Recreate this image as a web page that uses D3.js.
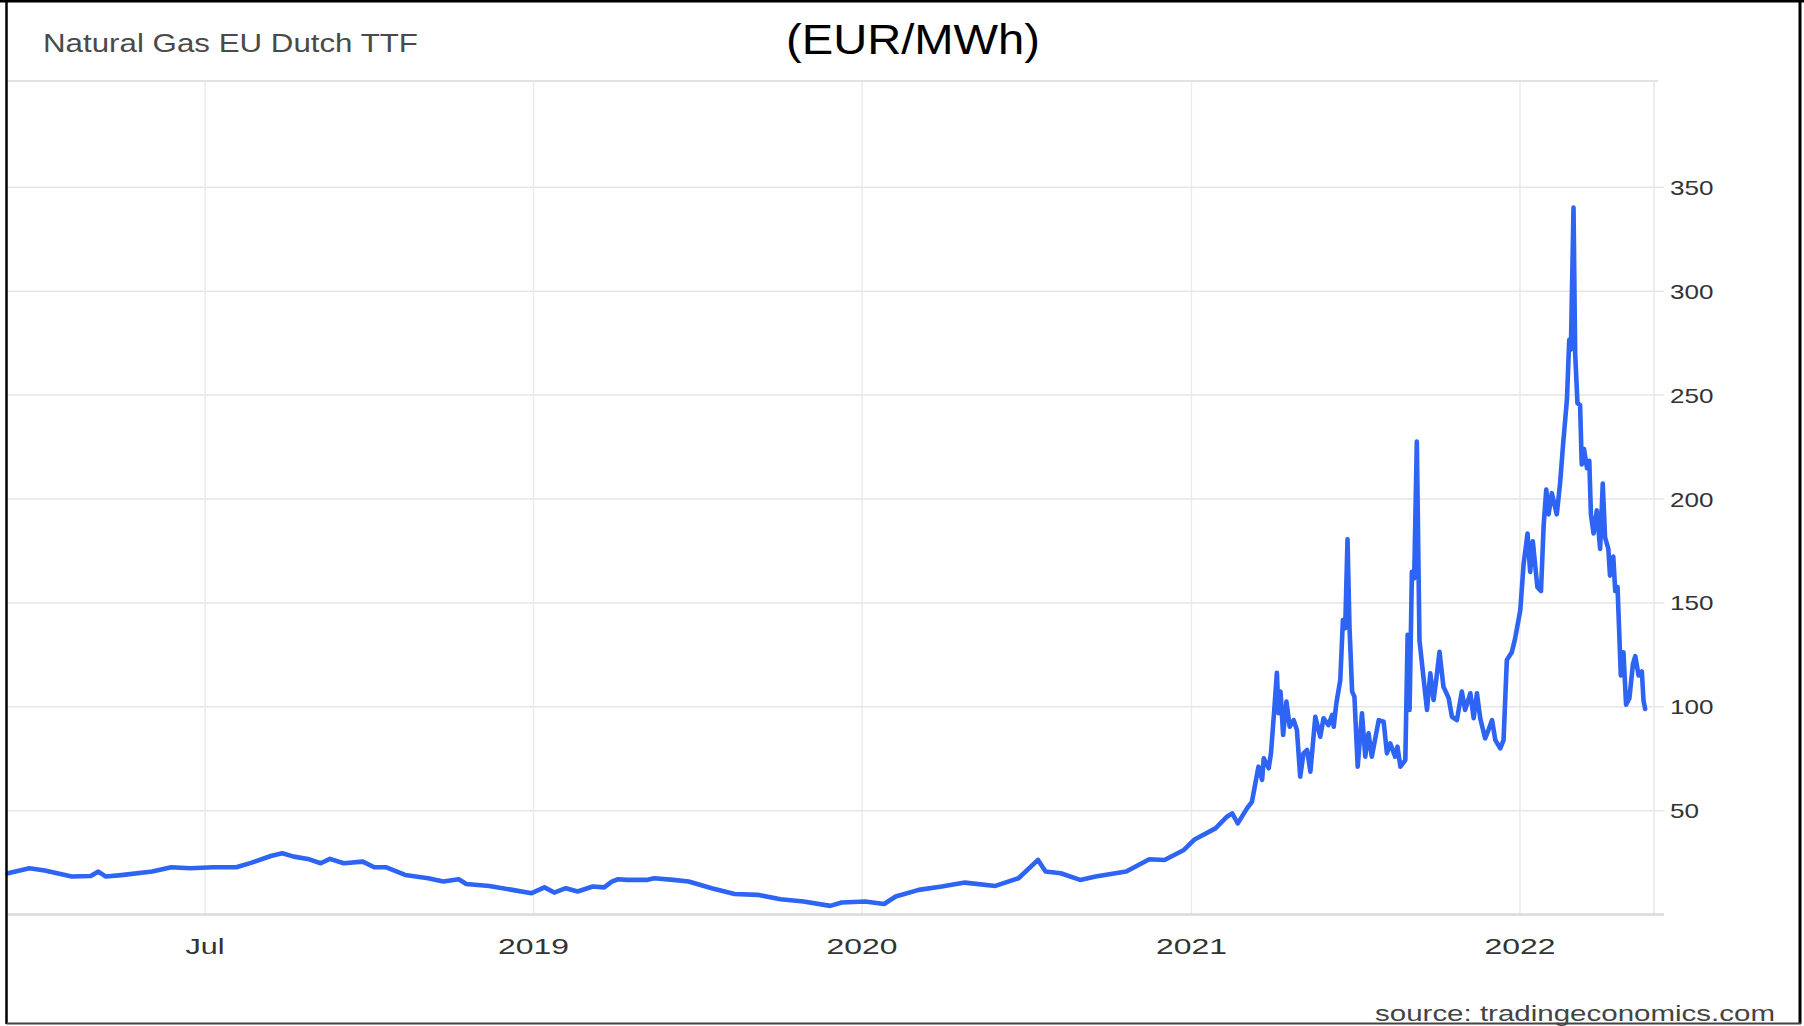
<!DOCTYPE html>
<html>
<head>
<meta charset="utf-8">
<script src="https://cdn.jsdelivr.net/npm/d3@7"></script>
<style>
  html, body { margin: 0; padding: 0; background: #fff; }
  svg { display: block; }
</style>
</head>
<body>
<svg id="chart" width="1804" height="1026"></svg>
<script>
// ---- data (decimal year, EUR/MWh) ----
const years = [
  2017.400, 2017.465, 2017.512, 2017.594, 2017.652, 2017.675, 2017.698, 2017.745, 2017.839, 2017.897,
  2017.955, 2018.025, 2018.095, 2018.142, 2018.200, 2018.235, 2018.270, 2018.317, 2018.352, 2018.380,
  2018.422, 2018.480, 2018.515, 2018.550, 2018.609, 2018.679, 2018.725, 2018.772, 2018.795, 2018.865,
  2018.935, 2018.994, 2019.033, 2019.063, 2019.098, 2019.134, 2019.180, 2019.215, 2019.238, 2019.257,
  2019.285, 2019.344, 2019.367, 2019.425, 2019.472, 2019.542, 2019.612, 2019.682, 2019.752, 2019.822,
  2019.903, 2019.938, 2020.009, 2020.067, 2020.102, 2020.172, 2020.242, 2020.312, 2020.405, 2020.475,
  2020.534, 2020.557, 2020.603, 2020.662, 2020.709, 2020.802, 2020.872, 2020.918, 2020.977, 2021.008,
  2021.073, 2021.108, 2021.124, 2021.141, 2021.169, 2021.184, 2021.204, 2021.215, 2021.220, 2021.235,
  2021.242, 2021.252, 2021.260, 2021.265, 2021.271, 2021.279, 2021.289, 2021.299, 2021.311, 2021.321,
  2021.331, 2021.341, 2021.352, 2021.362, 2021.377, 2021.392, 2021.402, 2021.417, 2021.428, 2021.433,
  2021.441, 2021.453, 2021.461, 2021.468, 2021.475, 2021.481, 2021.489, 2021.496, 2021.506, 2021.519,
  2021.529, 2021.539, 2021.549, 2021.570, 2021.585, 2021.595, 2021.605, 2021.620, 2021.627, 2021.636,
  2021.651, 2021.658, 2021.664, 2021.671, 2021.678, 2021.686, 2021.694, 2021.706, 2021.717, 2021.727,
  2021.737, 2021.745, 2021.755, 2021.767, 2021.783, 2021.793, 2021.808, 2021.823, 2021.833, 2021.849,
  2021.859, 2021.869, 2021.879, 2021.894, 2021.904, 2021.915, 2021.925, 2021.940, 2021.950, 2021.960,
  2021.975, 2021.985, 2022.001, 2022.011, 2022.023, 2022.031, 2022.039, 2022.053, 2022.064, 2022.072,
  2022.080, 2022.087, 2022.097, 2022.112, 2022.122, 2022.131, 2022.143, 2022.150, 2022.155, 2022.163,
  2022.168, 2022.175, 2022.183, 2022.188, 2022.195, 2022.204, 2022.211, 2022.216, 2022.224, 2022.234,
  2022.244, 2022.252, 2022.259, 2022.269, 2022.274, 2022.284, 2022.290, 2022.297, 2022.307, 2022.315,
  2022.323, 2022.333, 2022.344, 2022.351, 2022.361, 2022.371, 2022.376, 2022.381
];
const prices = [
  19.9, 22.3, 21.2, 18.3, 18.6, 20.7, 18.3, 19.0, 20.7, 22.8,
  22.3, 22.8, 22.8, 25.0, 28.2, 29.5, 27.9, 26.6, 24.7, 26.8,
  24.7, 25.5, 22.8, 22.8, 19.1, 17.5, 15.9, 17.0, 14.7, 13.8,
  11.9, 10.3, 13.1, 10.6, 12.7, 11.1, 13.5, 13.1, 15.9, 17.0,
  16.7, 16.7, 17.5, 16.7, 15.9, 12.7, 9.9, 9.5, 7.4, 6.3,
  4.2, 5.8, 6.3, 5.1, 8.7, 11.9, 13.5, 15.4, 13.8, 17.5,
  26.3, 20.7, 19.9, 16.7, 18.3, 20.7, 26.6, 26.3, 31.1, 36.0,
  41.5, 47.1, 48.7, 43.9, 51.1, 54.3, 71.2, 64.8, 75.2, 70.4,
  77.6, 98.5, 116.4, 96.9, 107.3, 86.4, 102.5, 90.4, 93.6, 88.8,
  66.4, 77.6, 79.2, 68.8, 95.2, 85.6, 94.5, 91.2, 96.1, 90.4,
  101.7, 112.9, 141.8, 137.8, 180.6, 138.5, 107.3, 104.9, 71.2, 96.9,
  76.0, 87.2, 76.0, 93.6, 92.8, 77.6, 82.4, 76.0, 80.8, 71.2,
  74.4, 134.6, 98.5, 165.0, 161.8, 227.6, 132.1, 114.5, 98.5, 116.1,
  103.3, 112.9, 126.5, 109.7, 104.1, 95.2, 93.6, 107.3, 98.5, 106.5,
  94.5, 106.5, 94.5, 84.8, 88.8, 93.6, 84.0, 80.0, 84.0, 122.5,
  126.2, 132.7, 146.5, 168.6, 183.4, 164.9, 179.7, 157.6, 155.7, 187.1,
  204.6, 192.6, 202.8, 192.6, 207.4, 225.8, 248.0, 276.6, 272.0, 340.2,
  270.1, 246.1, 245.2, 216.6, 224.0, 214.8, 218.4, 192.6, 183.4, 194.5,
  176.0, 207.4, 181.5, 176.0, 163.1, 172.3, 155.7, 157.6, 115.1, 126.2,
  101.0, 104.0, 120.7, 124.4, 115.1, 117.0, 103.1, 99.0
];
const xTickYears = [2018, 2019, 2020, 2021, 2022];
const xTickLabels = ["Jul", "2019", "2020", "2021", "2022"];
const yTicks = [50, 100, 150, 200, 250, 300, 350];
const domainYears = [2017.400, 2022.408];
const yDomain = [0, 400];
const titleText = "Natural Gas EU Dutch TTF";
const unitText = "(EUR/MWh)";
const sourceText = "source: tradingeconomics.com";

// ---- helpers ----
function yearToDate(t) {
  const y = Math.floor(t);
  const s = Date.UTC(y, 0, 1), e = Date.UTC(y + 1, 0, 1);
  return new Date(s + (t - y) * (e - s));
}

const svg = d3.select("#chart");
const W = 1804, H = 1026;
const plot = { left: 8, right: 1654, top: 81, bottom: 914.6 };

const x = d3.scaleUtc()
  .domain(domainYears.map(yearToDate))
  .range([plot.left, plot.right]);
const y = d3.scaleLinear()
  .domain(yDomain)
  .range([plot.bottom, plot.bottom - 400 * 2.078]);

const font = "'Liberation Sans', Arial, Helvetica, sans-serif";

svg.append("rect").attr("width", W).attr("height", H).attr("fill", "#fff");

// vertical gridlines
const tickDates = xTickYears.map(v => yearToDate(v));
svg.append("g").selectAll("line").data(tickDates).join("line")
  .attr("x1", d => x(d)).attr("x2", d => x(d))
  .attr("y1", plot.top).attr("y2", plot.bottom)
  .attr("stroke", "#ebebeb").attr("stroke-width", 1.5);

// horizontal gridlines
svg.append("g").selectAll("line").data(yTicks).join("line")
  .attr("x1", plot.left).attr("x2", plot.right + 10)
  .attr("y1", d => y(d)).attr("y2", d => y(d))
  .attr("stroke", "#e6e6e6").attr("stroke-width", 1.5);

// top border of plot
svg.append("line")
  .attr("x1", plot.left).attr("x2", plot.right + 4)
  .attr("y1", plot.top).attr("y2", plot.top)
  .attr("stroke", "#e2e2e2").attr("stroke-width", 2);

// right vertical axis line
svg.append("line")
  .attr("x1", plot.right).attr("x2", plot.right)
  .attr("y1", plot.top).attr("y2", plot.bottom)
  .attr("stroke", "#e6e6e6").attr("stroke-width", 1.5);

// bottom axis line
svg.append("line")
  .attr("x1", plot.left).attr("x2", plot.right + 10)
  .attr("y1", y(0)).attr("y2", y(0))
  .attr("stroke", "#dadada").attr("stroke-width", 2.5);

// line series
const data = years.map((t, i) => ({ date: yearToDate(t), v: prices[i] }));
const line = d3.line().x(d => x(d.date)).y(d => y(d.v));
svg.append("path").datum(data)
  .attr("d", line)
  .attr("fill", "none")
  .attr("stroke", "#2d64f4")
  .attr("stroke-width", 4.6)
  .attr("stroke-linejoin", "round")
  .attr("stroke-linecap", "round");

// y labels
svg.append("g").selectAll("text").data(yTicks).join("text")
  .attr("x", plot.right + 16)
  .attr("y", d => y(d) + 7.5)
  .attr("font-family", font).attr("font-size", 21)
  .attr("fill", "#333")
  .attr("textLength", d => String(d).length * 14.5)
  .attr("lengthAdjust", "spacingAndGlyphs")
  .text(d => d);

// x labels
svg.append("g").selectAll("text").data(tickDates).join("text")
  .attr("x", d => x(d))
  .attr("y", 954)
  .attr("text-anchor", "middle")
  .attr("font-family", font).attr("font-size", 22)
  .attr("fill", "#333")
  .attr("textLength", (d, i) => xTickLabels[i] === "Jul" ? 39 : 71)
  .attr("lengthAdjust", "spacingAndGlyphs")
  .text((d, i) => xTickLabels[i]);

// title
svg.append("text")
  .attr("x", 43).attr("y", 51.5)
  .attr("font-family", font).attr("font-size", 25.5)
  .attr("fill", "#4a4a4a")
  .attr("textLength", 375).attr("lengthAdjust", "spacingAndGlyphs")
  .text(titleText);

// unit
svg.append("text")
  .attr("x", 786).attr("y", 54)
  .attr("font-family", font).attr("font-size", 43)
  .attr("fill", "#000")
  .attr("textLength", 254).attr("lengthAdjust", "spacingAndGlyphs")
  .text(unitText);

// source
svg.append("text")
  .attr("x", 1375).attr("y", 1020.5)
  .attr("font-family", font).attr("font-size", 22)
  .attr("fill", "#444")
  .attr("textLength", 400).attr("lengthAdjust", "spacingAndGlyphs")
  .text(sourceText);

// outer frame
svg.append("line").attr("x1", 0).attr("x2", W).attr("y1", 1.2).attr("y2", 1.2)
  .attr("stroke", "#000").attr("stroke-width", 2.5);
svg.append("line").attr("x1", 6.5).attr("x2", 6.5).attr("y1", 0).attr("y2", 1024)
  .attr("stroke", "#000").attr("stroke-width", 2.5);
svg.append("line").attr("x1", 1800).attr("x2", 1800).attr("y1", 0).attr("y2", 1024)
  .attr("stroke", "#000").attr("stroke-width", 3);
svg.append("line").attr("x1", 6.5).attr("x2", 1801).attr("y1", 1023.5).attr("y2", 1023.5)
  .attr("stroke", "#444").attr("stroke-width", 2);
</script>
</body>
</html>
